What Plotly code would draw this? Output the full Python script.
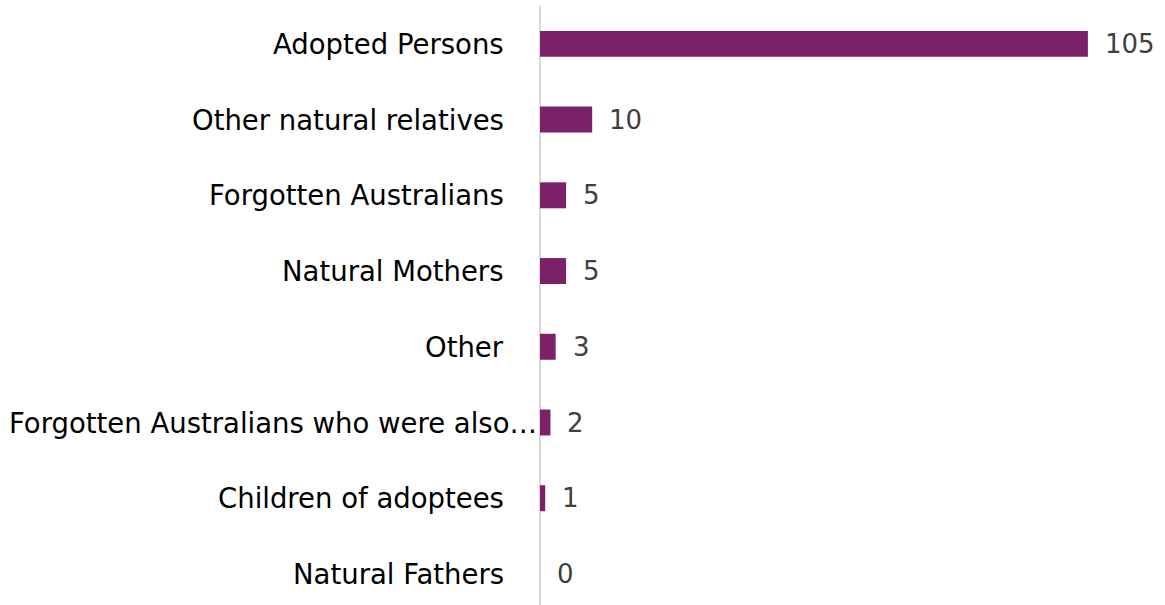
import plotly.graph_objects as go

categories = [
    "Adopted Persons",
    "Other natural relatives",
    "Forgotten Australians",
    "Natural Mothers",
    "Other",
    "Forgotten Australians who were also…",
    "Children of adoptees",
    "Natural Fathers",
]
values = [105, 10, 5, 5, 3, 2, 1, 0]

BAR_COLOR = "#7B2069"
FONT = "DejaVu Sans"

fig = go.Figure()
fig.add_trace(go.Bar(
    x=values,
    y=categories,
    orientation="h",
    marker=dict(color=BAR_COLOR, line=dict(width=0)),
    hoverinfo="x+y",
))

annotations = []
for c, v in zip(categories, values):
    # value label right of the bar
    annotations.append(dict(
        x=v, y=c, xref="x", yref="y", text=str(v), showarrow=False,
        xanchor="left", yanchor="middle", xshift=15,
        font=dict(family=FONT, size=26, color="#404040"),
    ))
    # category label left of the axis (truncated label sits closer, as in the source)
    truncated = c.endswith("…")
    annotations.append(dict(
        x=0, y=c, xref="x", yref="y", text=c, showarrow=False,
        xanchor="right", yanchor="middle", xshift=-1 if truncated else -34,
        font=dict(family=FONT, size=27.5, color="#000000"),
    ))

fig.update_layout(
    width=1165, height=605,
    margin=dict(l=540, r=15, t=6, b=0),
    paper_bgcolor="white", plot_bgcolor="white",
    bargap=0.657,
    showlegend=False,
    annotations=annotations,
    font=dict(family=FONT, size=27.5, color="#000000"),
)
fig.update_xaxes(
    range=[0, 116.9], showgrid=False, showticklabels=False, ticks="",
    zeroline=True, zerolinecolor="#d9d9d9", zerolinewidth=2, showline=False,
    automargin=False,
)
fig.update_yaxes(
    categoryorder="array", categoryarray=categories,
    range=[7.41, -0.5], showgrid=False, showline=False, ticks="",
    showticklabels=False, automargin=False,
)

fig.write_html("out.html", config={"displayModeBar": False},
               post_script="document.body.style.margin='0px';")
